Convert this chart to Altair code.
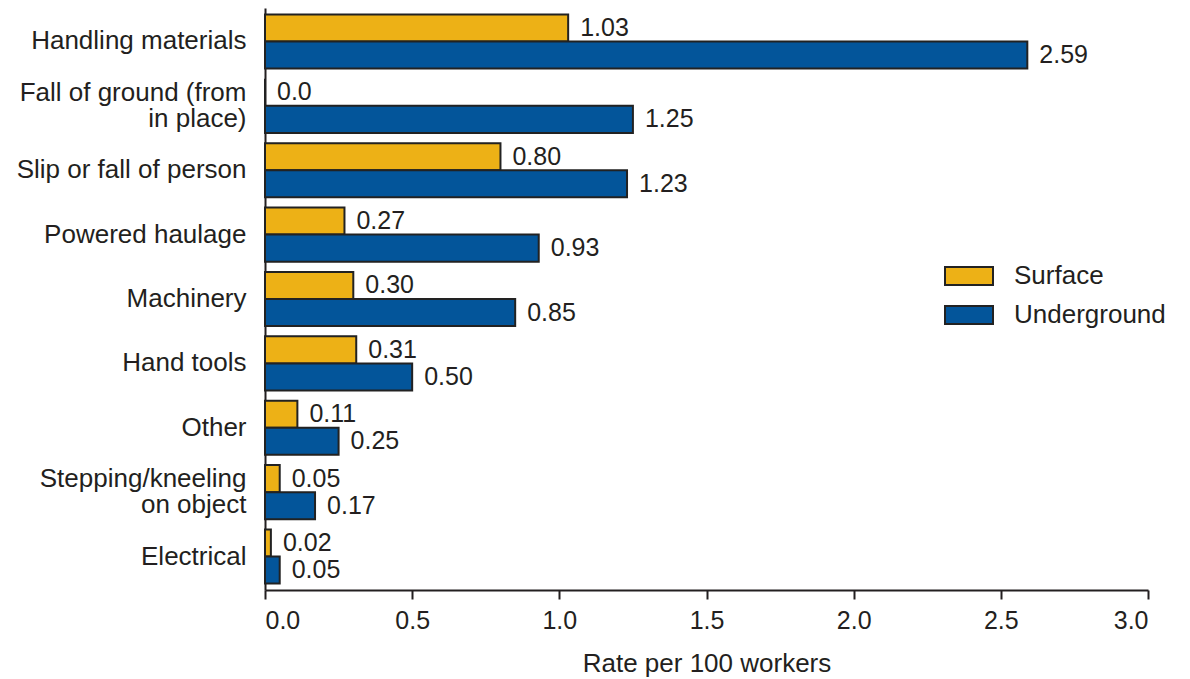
import altair as alt
import pandas as pd

categories = [
    "Handling materials",
    "Fall of ground (from|in place)",
    "Slip or fall of person",
    "Powered haulage",
    "Machinery",
    "Hand tools",
    "Other",
    "Stepping/kneeling|on object",
    "Electrical",
]
surface = [1.03, 0.0, 0.80, 0.27, 0.30, 0.31, 0.11, 0.05, 0.02]
underground = [2.59, 1.25, 1.23, 0.93, 0.85, 0.50, 0.25, 0.17, 0.05]
series = ["Surface", "Underground"]
colors = ["#EDB116", "#03559A"]

rows = []
for c, s, u in zip(categories, surface, underground):
    rows.append({"cat": c, "series": "Surface", "value": s,
                 "label": "0.0" if s == 0 else f"{s:.2f}"})
    rows.append({"cat": c, "series": "Underground", "value": u,
                 "label": "0.0" if u == 0 else f"{u:.2f}"})
df = pd.DataFrame(rows)

FONT = "Liberation Sans"
FS = 25
FSL = 26
TXT = "#231f20"

y_enc = alt.Y("cat:N", sort=categories, title=None,
              scale=alt.Scale(paddingInner=0.16, paddingOuter=0.1),
              axis=alt.Axis(labelExpr="split(datum.label, '|')", labelLineHeight=26,
                            labelOffset={"condition": {"test": "indexof(datum.label, '|') >= 0",
                                                       "value": -13}, "value": 0},
                            ticks=False, domain=True, domainColor=TXT, domainWidth=2,
                            labelFont=FONT, labelFontSize=FSL, labelColor=TXT,
                            labelPadding=19, labelLimit=400))
yoff = alt.YOffset("series:N", sort=series, scale=alt.Scale(paddingInner=0, paddingOuter=0))

bars = alt.Chart(df).mark_bar(stroke="#222222", strokeWidth=2).encode(
    x=alt.X("value:Q", title="Rate per 100 workers",
            scale=alt.Scale(domain=[0, 3], nice=False),
            axis=alt.Axis(values=[0, 0.5, 1, 1.5, 2, 2.5, 3], format=".1f",
                          grid=False, domainColor=TXT, domainWidth=2,
                          tickColor=TXT, tickWidth=2, tickSize=9,
                          labelFont=FONT, labelFontSize=FS, labelColor=TXT, labelPadding=9,
                          titleFont=FONT, titleFontSize=FSL, titleColor=TXT,
                          titleFontWeight="normal", titlePadding=17)),
    y=y_enc,
    yOffset=yoff,
    fill=alt.Fill("series:N", sort=series,
                  scale=alt.Scale(domain=series, range=colors),
                  legend=alt.Legend(title=None, orient="none", legendX=679, legendY=243,
                                    symbolType="M-1,-0.375H1V0.375H-1Z", symbolSize=2304,
                                    symbolStrokeColor="#222222", symbolStrokeWidth=2,
                                    symbolOpacity=1, labelFont=FONT, labelFontSize=FSL,
                                    labelColor=TXT, rowPadding=1, labelOffset=20)),
)

text = alt.Chart(df).mark_text(align="left", baseline="middle", dx=12,
                               font=FONT, fontSize=FS, color=TXT).encode(
    x=alt.X("value:Q"),
    y=alt.Y("cat:N", sort=categories),
    yOffset=alt.YOffset("series:N", sort=series),
    text="label:N",
)

chart = alt.layer(bars, text).properties(
    width=883, height=582,
    autosize=alt.AutoSizeParams(type="none"),
    padding={"left": 257, "top": 0, "right": 30, "bottom": 88},
).configure_view(stroke=None)

chart.save("out.html", embed_options={"renderer": "svg", "actions": False})
